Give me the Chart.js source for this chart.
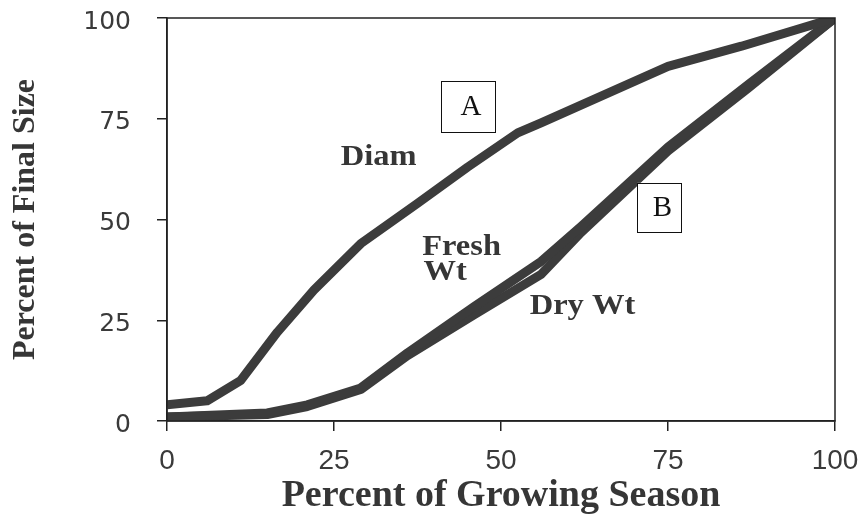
<!DOCTYPE html>
<html><head><meta charset="utf-8">
<script src="https://cdn.jsdelivr.net/npm/chart.js@4"></script>
<style>html,body{margin:0;padding:0;background:#fff}#wrap{width:865px;height:515px}</style>
</head><body><div id="wrap"><canvas id="c" width="865" height="515"></canvas></div>
<script>
// ---- data ----
const tickValues = [0, 25, 50, 75, 100];
const diamSeason = [0, 6, 11, 16.5, 22, 29, 37.5, 45, 52.5, 56, 75, 86, 100];
const diamSize   = [4, 5, 10, 22, 32.5, 44, 54, 63, 71.5, 74, 88, 93, 100];
const freshSeason = [0, 15, 21, 29, 36, 46, 56, 62, 75, 87, 100];
const freshSize   = [1, 2, 4, 8.2, 16.9, 28.4, 39.6, 48.3, 68, 83.5, 100];
const drySeason   = [0, 15, 21, 29, 36, 46, 56, 62, 75, 87, 100];
const drySize     = [1, 1.6, 3.6, 7.8, 16.2, 26.4, 36.4, 46.8, 67, 82.6, 100];
const seriesNames = ['Diam', 'Fresh Wt', 'Dry Wt'];
const xTitle = 'Percent of Growing Season';
const yTitle = 'Percent of Final Size';

// ---- annotation layout (data coordinates) ----
const notes = [
  {text: 'Diam',   x: 26, y: 65.5},
  {text: 'Fresh',  x: 38.2, y: 43},
  {text: 'Wt',     x: 38.4, y: 36.8},
  {text: 'Dry Wt', x: 54.3, y: 28.5}
];
const boxes = [
  {text: 'A', x0: 41.0, x1: 49.1, y0: 71.7, y1: 84.4},
  {text: 'B', x0: 70.4, x1: 77.0, y0: 46.9, y1: 59.1}
];

const pts = (xs, ys) => xs.map((x, i) => ({x, y: ys[i]}));
const lineColor = '#3c3c3c';
const textColor = '#363636';

const frame = {
  id: 'frame',
  afterDatasetsDraw(chart) {
    const {ctx, chartArea: a, scales: {x, y}} = chart;
    ctx.save();
    ctx.strokeStyle = '#222';
    ctx.lineWidth = 1.5;
    ctx.strokeRect(a.left, a.top, a.right - a.left, a.bottom - a.top);
    ctx.fillStyle = textColor;
    ctx.textBaseline = 'middle';
    ctx.textAlign = 'left';
    ctx.font = 'bold 29px "Liberation Serif"';
    notes.forEach(n => {
      ctx.save();
      ctx.translate(x.getPixelForValue(n.x), y.getPixelForValue(n.y));
      ctx.scale(1.12, 1);
      ctx.fillText(n.text, 0, 0);
      ctx.restore();
    });
    ctx.font = '29px "Liberation Serif"';
    ctx.textAlign = 'center';
    boxes.forEach(b => {
      const l = x.getPixelForValue(b.x0), r = x.getPixelForValue(b.x1);
      const t = y.getPixelForValue(b.y1), bt = y.getPixelForValue(b.y0);
      ctx.fillStyle = '#fff';
      ctx.fillRect(l, t, r - l, bt - t);
      ctx.strokeStyle = '#111';
      ctx.lineWidth = 1;
      ctx.strokeRect(Math.round(l) + 0.5, Math.round(t) + 0.5, Math.round(r - l), Math.round(bt - t));
      ctx.fillStyle = '#111';
      ctx.fillText(b.text, (l + r) / 2 + 3, (t + bt) / 2 + 1);
    });
    ctx.restore();
  }
};

new Chart(document.getElementById('c'), {
  type: 'line',
  data: {
    datasets: [
      {label: seriesNames[0], data: pts(diamSeason, diamSize)},
      {label: seriesNames[1], data: pts(freshSeason, freshSize)},
      {label: seriesNames[2], data: pts(drySeason, drySize)}
    ].map(d => Object.assign(d, {
      borderColor: lineColor, backgroundColor: lineColor, borderWidth: 9,
      pointRadius: 0, tension: 0, fill: false, borderJoinStyle: 'round', borderCapStyle: 'butt'
    }))
  },
  options: {
    responsive: false,
    animation: false,
    devicePixelRatio: 1,
    layout: {padding: {left: 0, right: 30, top: 18, bottom: 0}},
    plugins: {legend: {display: false}, tooltip: {enabled: false}},
    scales: {
      x: {
        type: 'linear', min: 0, max: 100,
        afterFit: s => { s.height = 94; s.paddingLeft = 0; s.paddingRight = 0; },
        afterBuildTicks: s => { s.ticks = tickValues.map(v => ({value: v})); },
        ticks: {font: {family: '"Liberation Sans", Arial', size: 28}, color: '#3a3a3a', padding: 13, maxRotation: 0},
        grid: {drawOnChartArea: false, tickLength: 10, color: '#222', lineWidth: 1.5},
        border: {display: true, color: '#222', width: 1.5},
        title: {display: true, text: xTitle, color: textColor,
                font: {family: '"Liberation Serif"', size: 38, weight: 'bold', lineHeight: 1.0}, padding: {top: 0, bottom: 0}}
      },
      y: {
        type: 'linear', min: 0, max: 100,
        afterFit: s => { s.width = 167; s.paddingTop = 0; s.paddingBottom = 0; },
        afterBuildTicks: s => { s.ticks = tickValues.map(v => ({value: v})); },
        ticks: {font: {family: '"DejaVu Sans"', size: 25}, color: '#3a3a3a', padding: 26, labelOffset: 4},
        grid: {drawOnChartArea: false, tickLength: 10, color: '#222', lineWidth: 1.5},
        border: {display: true, color: '#222', width: 1.5},
        title: {display: true, text: yTitle, color: textColor,
                font: {family: '"Liberation Serif"', size: 32, weight: 'bold'}, padding: {top: 7, bottom: 0}}
      }
    }
  },
  plugins: [frame]
});
</script>
</body></html>
